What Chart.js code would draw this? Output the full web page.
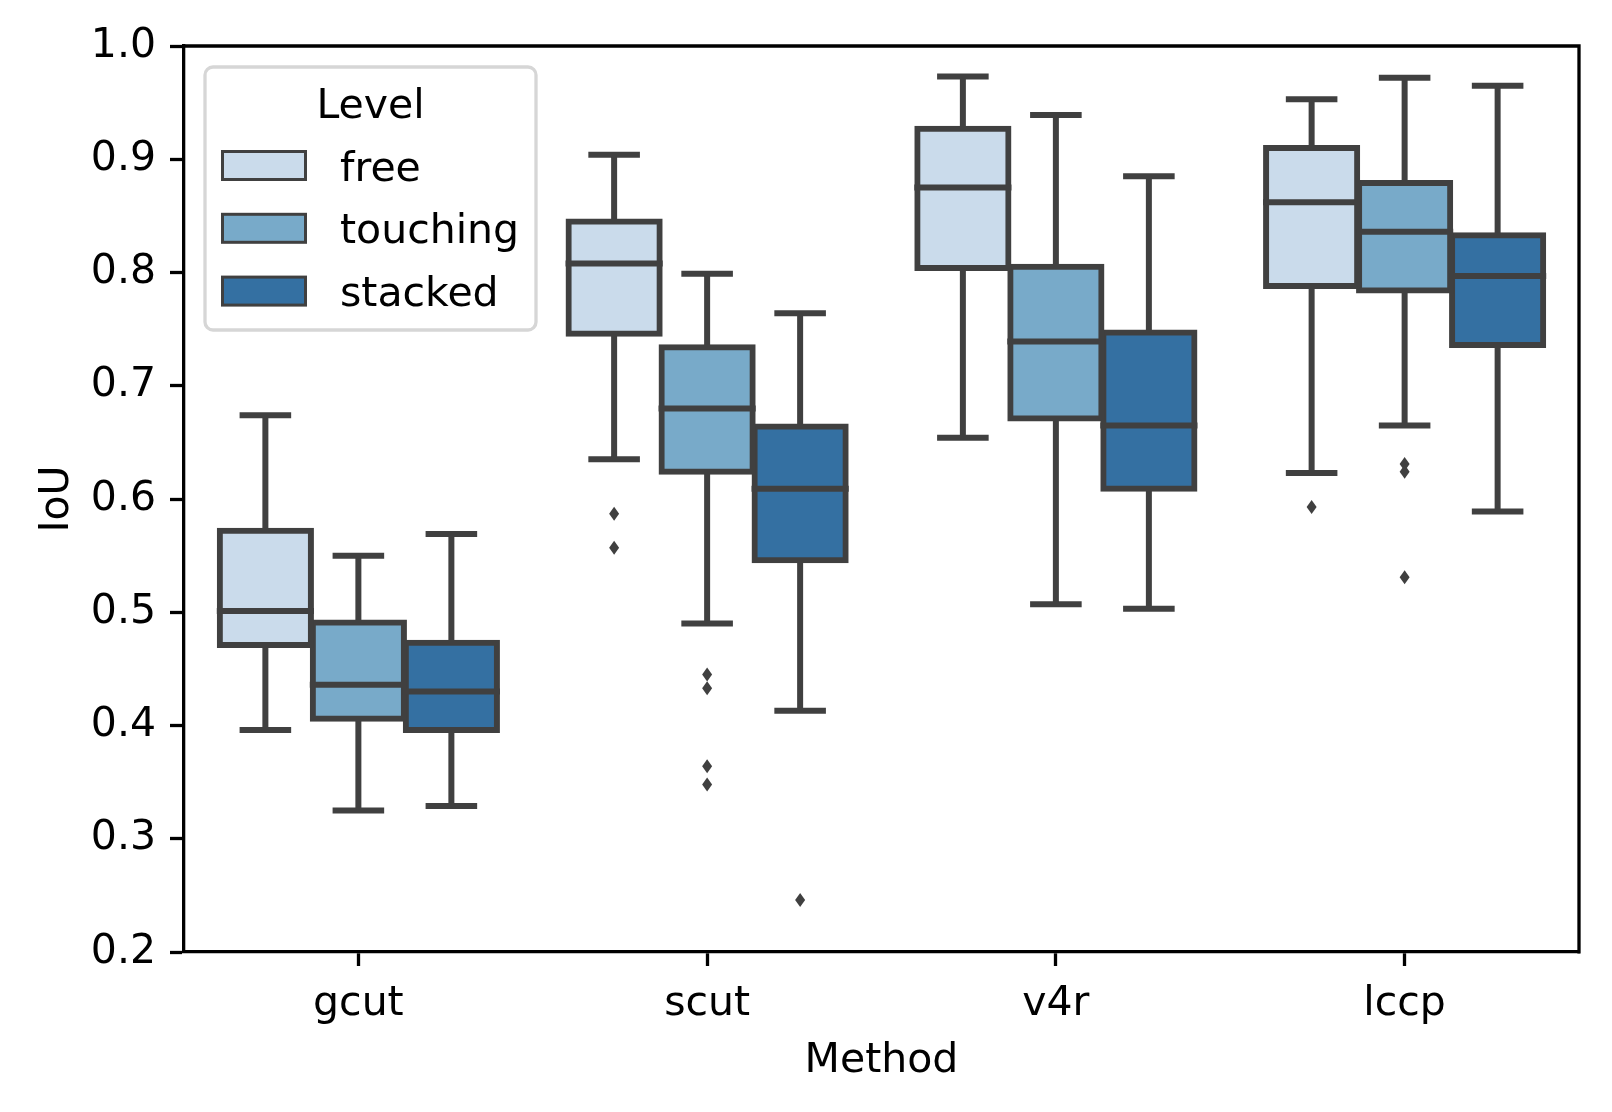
<!DOCTYPE html>
<html>
<head>
<meta charset="utf-8">
<title>IoU per method and level</title>
<script src="https://cdn.jsdelivr.net/npm/chart.js@4.4.0/dist/chart.umd.min.js"></script>
<style>
  body { margin: 0; background: #fff; }
  canvas { display: block; }
</style>
</head>
<body>
<canvas id="chart" width="1612" height="1112"></canvas>
<script>
const methods = ['gcut', 'scut', 'v4r', 'lccp'];
const levels = ['free', 'touching', 'stacked'];

// y axis range and tick step
const yMin = 0.2;
const yMax = 1.0;
const yStep = 0.1;

// [whisker low, q1, median, q3, whisker high] for each method
const freeStats = [
  [0.396, 0.471, 0.501, 0.572, 0.674],
  [0.635, 0.746, 0.808, 0.845, 0.904],
  [0.654, 0.804, 0.875, 0.927, 0.973],
  [0.623, 0.788, 0.862, 0.910, 0.953]
];
const touchingStats = [
  [0.325, 0.406, 0.436, 0.491, 0.550],
  [0.490, 0.624, 0.680, 0.734, 0.799],
  [0.507, 0.671, 0.739, 0.805, 0.939],
  [0.665, 0.784, 0.836, 0.879, 0.972]
];
const stackedStats = [
  [0.329, 0.396, 0.430, 0.473, 0.569],
  [0.413, 0.546, 0.609, 0.664, 0.764],
  [0.503, 0.609, 0.665, 0.747, 0.885],
  [0.589, 0.736, 0.797, 0.833, 0.965]
];

// outliers for each method
const freeOutliers = [[], [0.587, 0.557], [], [0.593]];
const touchingOutliers = [[], [0.445, 0.433, 0.364, 0.348], [], [0.631, 0.624, 0.531]];
const stackedOutliers = [[], [0.246], [], []];

const allStats = [freeStats, touchingStats, stackedStats];
const allOutliers = [freeOutliers, touchingOutliers, stackedOutliers];
const levelColors = ['#cadbeb', '#78aac9', '#3470a2'];
const lineGray = '#404040';

Chart.defaults.font.family = 'DejaVu Sans';
Chart.defaults.font.size = 41;
Chart.defaults.color = '#000';

function hueOffset(k) {
  return (k - 1) * 0.8 / levels.length;
}

function drawWhiskers(chart) {
  const ctx = chart.ctx;
  const y = chart.scales.y;
  ctx.save();
  ctx.strokeStyle = lineGray;
  ctx.lineWidth = 6;
  ctx.lineCap = 'square';
  allStats.forEach((stats, k) => {
    chart.getDatasetMeta(k).data.forEach((bar, i) => {
      const [lo, q1, med, q3, hi] = stats[i];
      const cap = bar.width / 4;
      ctx.beginPath();
      ctx.moveTo(bar.x, y.getPixelForValue(q3));
      ctx.lineTo(bar.x, y.getPixelForValue(hi));
      ctx.moveTo(bar.x - cap, y.getPixelForValue(hi));
      ctx.lineTo(bar.x + cap, y.getPixelForValue(hi));
      ctx.moveTo(bar.x, y.getPixelForValue(q1));
      ctx.lineTo(bar.x, y.getPixelForValue(lo));
      ctx.moveTo(bar.x - cap, y.getPixelForValue(lo));
      ctx.lineTo(bar.x + cap, y.getPixelForValue(lo));
      ctx.stroke();
    });
  });
  ctx.restore();
}

// medians across each box, then the outlier diamonds
function drawMediansAndOutliers(chart) {
  const ctx = chart.ctx;
  const y = chart.scales.y;
  const xo = chart.scales.xo;
  ctx.save();
  ctx.strokeStyle = lineGray;
  ctx.fillStyle = lineGray;
  ctx.lineWidth = 6;
  allStats.forEach((stats, k) => {
    chart.getDatasetMeta(k).data.forEach((bar, i) => {
      const py = y.getPixelForValue(stats[i][2]);
      ctx.beginPath();
      ctx.moveTo(bar.x - bar.width / 2 - 3, py);
      ctx.lineTo(bar.x + bar.width / 2 + 3, py);
      ctx.stroke();
    });
  });
  allOutliers.forEach((outs, k) => {
    outs.forEach((vals, i) => {
      const px = xo.getPixelForValue(i + hueOffset(k));
      vals.forEach(v => {
        const py = y.getPixelForValue(v);
        ctx.beginPath();
        ctx.moveTo(px, py - 7);
        ctx.lineTo(px + 5, py);
        ctx.lineTo(px, py + 7);
        ctx.lineTo(px - 5, py);
        ctx.closePath();
        ctx.fill();
      });
    });
  });
  ctx.restore();
}

function roundedRect(ctx, x, y, w, h, r) {
  ctx.beginPath();
  ctx.moveTo(x + r, y);
  ctx.arcTo(x + w, y, x + w, y + h, r);
  ctx.arcTo(x + w, y + h, x, y + h, r);
  ctx.arcTo(x, y + h, x, y, r);
  ctx.arcTo(x, y, x + w, y, r);
  ctx.closePath();
}

function drawFrameAndLegend(chart) {
  const ctx = chart.ctx;
  const area = chart.chartArea;
  ctx.save();
  // top and right spines
  ctx.strokeStyle = '#000';
  ctx.lineWidth = 3.3;
  ctx.beginPath();
  ctx.moveTo(area.left - 1.6, area.top);
  ctx.lineTo(area.right, area.top);
  ctx.lineTo(area.right, area.bottom + 1.6);
  ctx.stroke();

  // legend box
  const lx = area.left + 21;
  const ly = area.top + 21;
  roundedRect(ctx, lx, ly, 331, 263, 8);
  ctx.fillStyle = 'rgba(255,255,255,0.8)';
  ctx.fill();
  ctx.strokeStyle = '#d6d6d6';
  ctx.lineWidth = 3.3;
  ctx.stroke();

  ctx.font = '41px "DejaVu Sans"';
  ctx.fillStyle = '#000';
  ctx.textAlign = 'center';
  ctx.textBaseline = 'alphabetic';
  ctx.fillText('Level', lx + 165.5, ly + 51);

  levels.forEach((lvl, k) => {
    const top = ly + 84.5 + k * 62.8;
    ctx.fillStyle = levelColors[k];
    ctx.fillRect(lx + 17.5, top, 83, 28);
    ctx.strokeStyle = lineGray;
    ctx.lineWidth = 3;
    ctx.strokeRect(lx + 17.5, top, 83, 28);
    ctx.fillStyle = '#000';
    ctx.textAlign = 'left';
    ctx.fillText(lvl, lx + 135, top + 29);
  });
  ctx.restore();
}

const boxPlugin = {
  id: 'boxParts',
  beforeDatasetsDraw: drawWhiskers,
  afterDatasetsDraw: drawMediansAndOutliers,
  afterDraw: drawFrameAndLegend
};

const boxDatasets = levels.map((lvl, k) => ({
  label: lvl,
  data: allStats[k].map(s => [s[1], s[3]]),
  backgroundColor: levelColors[k],
  borderColor: lineGray,
  borderWidth: 6,
  borderSkipped: false,
  inflateAmount: 3,
  categoryPercentage: 0.8,
  barPercentage: 0.98
}));

new Chart(document.getElementById('chart'), {
  type: 'bar',
  data: {
    labels: methods,
    datasets: boxDatasets
  },
  options: {
    responsive: false,
    animation: false,
    layout: { padding: { top: 46, right: 33, left: 0, bottom: 0 } },
    plugins: {
      legend: { display: false },
      tooltip: { enabled: false }
    },
    scales: {
      x: {
        type: 'category',
        offset: true,
        grid: {
          offset: false,
          drawOnChartArea: false,
          tickLength: 14,
          tickWidth: 3.3,
          tickColor: '#000'
        },
        border: { display: true, color: '#000', width: 3.3 },
        ticks: { padding: 14, color: '#000' },
        title: { display: true, text: 'Method', padding: { top: 0, bottom: 26 } },
        afterFit: (scale) => { scale.height = 160; }
      },
      // numeric twin of the category axis, used to place the outliers
      xo: {
        type: 'linear',
        display: false,
        offset: false,
        min: -0.5,
        max: methods.length - 0.5
      },
      y: {
        min: yMin,
        max: yMax,
        grid: {
          drawOnChartArea: false,
          tickLength: 14,
          tickWidth: 3.3,
          tickColor: '#000'
        },
        border: { display: true, color: '#000', width: 3.3 },
        ticks: {
          stepSize: yStep,
          padding: 14,
          color: '#000',
          callback: (v) => v.toFixed(1)
        },
        title: { display: true, text: 'IoU', padding: { top: 33, bottom: 0 } },
        afterFit: (scale) => { scale.width = 184; }
      }
    }
  },
  plugins: [boxPlugin]
});
</script>
</body>
</html>
